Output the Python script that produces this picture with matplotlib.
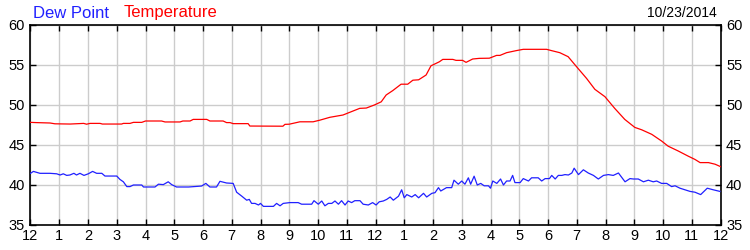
import matplotlib
matplotlib.use("Agg")
import matplotlib.pyplot as plt
import numpy as np

# Hours since midnight
temp_hours = [0, 0.2, 0.68, 0.85, 1.38, 1.85, 1.95, 2.07, 2.42, 2.5, 3.17, 3.23, 3.46, 3.58, 3.87,
              4.0, 4.56, 4.68, 5.2, 5.3, 5.55, 5.66, 6.13, 6.24, 6.7, 6.82, 6.94, 7.05, 7.57, 7.63,
              8.78, 8.85, 9.0, 9.37, 9.83, 10.06, 10.41, 10.87, 11.1, 11.45, 11.68, 11.96, 12.2,
              12.37, 12.6, 12.89, 13.12, 13.3, 13.5, 13.76, 13.93, 14.22, 14.34, 14.69, 14.8, 15.03,
              15.15, 15.38, 15.61, 15.96, 16.21, 16.33, 16.56, 16.9, 17.14, 17.95, 18.12, 18.41,
              18.7, 18.99, 19.34, 19.63, 19.98, 20.32, 20.67, 21.02, 21.26, 21.61, 21.95, 22.18,
              22.53, 22.88, 23.11, 23.29, 23.58, 23.81, 24.0]
temp_values = [47.83, 47.8, 47.75, 47.65, 47.62, 47.7, 47.6, 47.7, 47.7, 47.62, 47.62, 47.7, 47.7, 47.83, 47.83,
               48.0, 48.0, 47.88, 47.88, 48.0, 48.0, 48.2, 48.2, 48.0, 48.0, 47.8, 47.8, 47.67, 47.67, 47.37,
               47.35, 47.58, 47.6, 47.9, 47.9, 48.1, 48.46, 48.75, 49.08, 49.58, 49.62, 50.0, 50.4,
               51.25, 51.8, 52.6, 52.6, 53.1, 53.15, 53.75, 54.9, 55.4, 55.7, 55.7, 55.58, 55.58,
               55.33, 55.75, 55.83, 55.85, 56.2, 56.2, 56.54, 56.8, 56.96, 56.96, 56.8, 56.54,
               56.04, 54.8, 53.33, 51.96, 51.04, 49.58, 48.2, 47.2, 46.9, 46.33, 45.5, 44.85,
               44.25, 43.6, 43.2, 42.8, 42.8, 42.6, 42.3]

dew_hours = [0, 0.1, 0.33, 0.68, 0.91, 1.03, 1.14, 1.26, 1.37, 1.51, 1.6, 1.72, 1.86, 2.01, 2.16,
             2.3, 2.48, 2.59, 3.0, 3.11, 3.23, 3.35, 3.46, 3.58, 3.87, 3.93, 4.33, 4.45, 4.62, 4.79,
             4.91, 5.08, 5.5, 5.95, 6.1, 6.24, 6.47, 6.59, 6.82, 7.05, 7.17, 7.35, 7.52, 7.61,
             7.69, 7.81, 7.93, 8.0, 8.1, 8.45, 8.56, 8.68, 8.79, 9.02, 9.31, 9.43, 9.78, 9.86,
             10.01, 10.13, 10.24, 10.36, 10.48, 10.59, 10.71, 10.82, 10.94, 11.05, 11.17, 11.28,
             11.46, 11.57, 11.75, 11.9, 12.02, 12.13, 12.27, 12.39, 12.51, 12.62, 12.8, 12.91,
             13.0, 13.09, 13.26, 13.38, 13.5, 13.67, 13.78, 13.96, 14.07, 14.19, 14.27, 14.47,
             14.65, 14.73, 14.88, 15.0, 15.11, 15.23, 15.31, 15.43, 15.54, 15.66, 15.78, 15.93,
             16.0, 16.08, 16.22, 16.35, 16.45, 16.56, 16.68, 16.77, 16.85, 17.03, 17.14, 17.32,
             17.43, 17.66, 17.78, 17.9, 18.05, 18.13, 18.25, 18.36, 18.48, 18.59, 18.71, 18.83,
             18.91, 19.06, 19.23, 19.4, 19.58, 19.75, 19.93, 20.1, 20.27, 20.45, 20.68, 20.85,
             20.97, 21.14, 21.32, 21.49, 21.66, 21.78, 21.95, 22.13, 22.3, 22.42, 22.59, 22.77,
             22.94, 23.11, 23.31, 23.54, 23.75, 23.98]
dew_values = [41.46, 41.7, 41.46, 41.46, 41.4, 41.25, 41.4, 41.2, 41.25, 41.46, 41.25, 41.46, 41.2, 41.4, 41.7,
              41.46, 41.46, 41.12, 41.12, 40.7, 40.4, 39.8, 39.8, 40.0, 40.0, 39.75, 39.75, 40.1, 40.05, 40.4,
              40.05, 39.75, 39.75, 39.87, 40.2, 39.75, 39.75, 40.46, 40.25, 40.2, 39.1, 38.6, 38.1, 38.2,
              37.7, 37.7, 37.5, 37.7, 37.33, 37.33, 37.7, 37.4, 37.7, 37.8, 37.8, 37.6, 37.6, 38.04,
              37.6, 38.0, 37.4, 37.7, 37.7, 38.0, 37.6, 38.04, 37.5, 38.0, 37.8, 38.04,
              38.04, 37.6, 37.5, 37.8, 37.5, 37.9, 38.0, 38.2, 38.5, 38.1, 38.6, 39.4,
              38.4, 38.8, 38.5, 38.8, 38.4, 38.96, 38.5, 38.96, 39.04, 39.67, 39.25, 39.67,
              39.67, 40.6, 40.1, 40.5, 40.1, 40.9, 40.1, 41.1, 40.0, 40.2, 39.9, 39.9,
              39.6, 40.5, 40.2, 40.75, 40.0, 40.5, 40.5, 41.2, 40.3, 40.3, 40.8, 40.5,
              40.9, 40.9, 40.5, 40.8, 40.8, 41.2, 40.75, 41.2, 41.2, 41.3, 41.25, 41.5,
              42.1, 41.3, 41.9, 41.5, 41.2, 40.75, 41.2, 41.3, 41.2, 41.5, 40.4, 40.8,
              40.75, 40.75, 40.4, 40.6, 40.4, 40.5, 40.2, 40.2, 39.8, 39.9, 39.6, 39.4,
              39.2, 39.1, 38.8, 39.6, 39.4, 39.2]

tick_hours = list(range(0, 25))
tick_labels = ["12", "1", "2", "3", "4", "5", "6", "7", "8", "9", "10", "11",
               "12", "1", "2", "3", "4", "5", "6", "7", "8", "9", "10", "11", "12"]
y_ticks = [35, 40, 45, 50, 55, 60]
date_label = "10/23/2014"

plt.rcParams['font.family'] = ['Liberation Sans', 'DejaVu Sans']

fig = plt.figure(figsize=(7.5, 2.5), dpi=100)
ax = fig.add_axes([30.5/750, 25/250, 690/750, 200/250])

ax.plot(temp_hours, temp_values, color='#ff0000', lw=0.9, zorder=3)
ax.plot(dew_hours, dew_values, color='#2020ff', lw=0.9, zorder=3)

ax.set_xlim(0, 24)
ax.set_ylim(35, 60)
ax.set_xticks(tick_hours)
ax.set_xticklabels(tick_labels)
ax.set_yticks(y_ticks)
ax.grid(True, color='#cccccc', lw=1.0, zorder=0)
ax.tick_params(axis='both', direction='in', length=4, width=1, colors='black',
               labelsize=10.5, top=True, right=True, labelright=True, pad=3)
ax.tick_params(axis='y', pad=4)
for sp in ax.spines.values():
    sp.set_color('black')
    sp.set_linewidth(1.2)

fig.text(33/750, 1 - 13/250, "Dew Point", color='#2020ff', fontsize=12, va='center', ha='left')
fig.text(124/750, 1 - 13/250, "Temperature", color='#ff0000', fontsize=12, va='center', ha='left')
fig.text(717/750, 1 - 13/250, date_label, color='black', fontsize=10, va='center', ha='right')

fig.savefig("out.png", dpi=100, facecolor='white')
